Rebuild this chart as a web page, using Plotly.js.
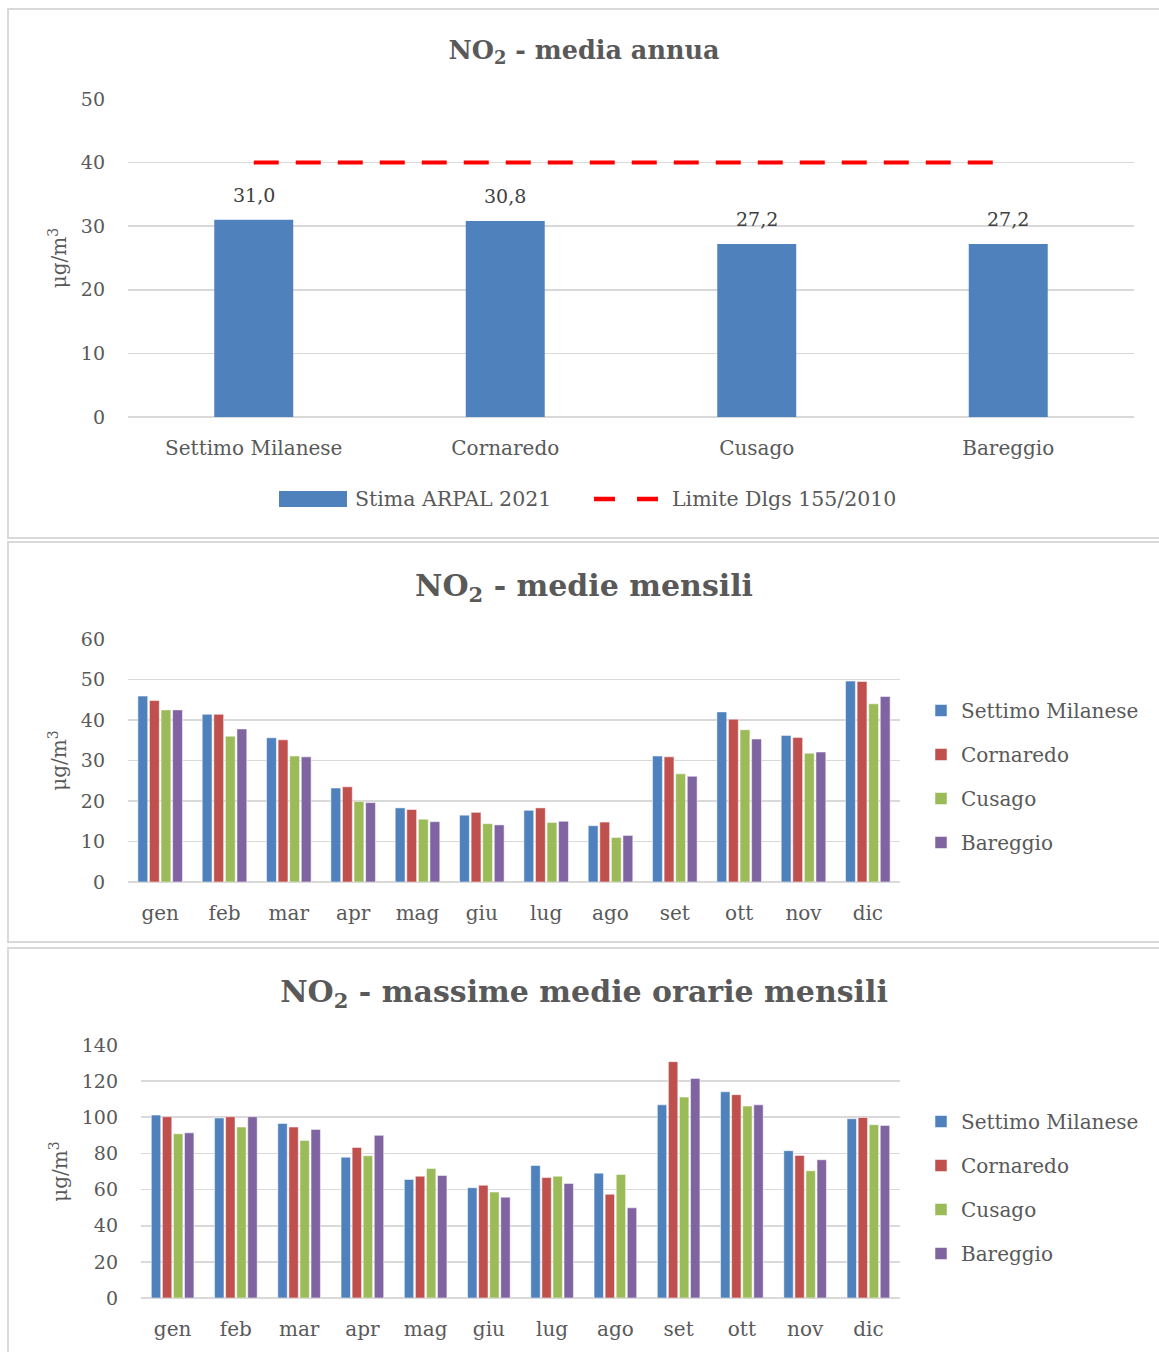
<!DOCTYPE html>
<html>
<head>
<meta charset="utf-8">
<script src="https://cdn.plot.ly/plotly-3.0.1.min.js"></script>
<style>
  html, body { margin: 0; padding: 0; background: #ffffff; width: 1159px; height: 1352px; overflow: hidden; }
  .panel { position: absolute; left: 7px; width: 1160px; border: 2px solid #d9d9d9; box-sizing: border-box; background: #fff; }
  .plot { position: absolute; left: 0; top: 0; width: 1150px; }
</style>
</head>
<body>
<div class="panel" style="top:8px;height:531px;"><div id="c1" class="plot" style="height:527px;"></div></div>
<div class="panel" style="top:541px;height:402px;"><div id="c2" class="plot" style="height:398px;"></div></div>
<div class="panel" style="top:947px;height:424px;"><div id="c3" class="plot" style="height:420px;"></div></div>
<script>
// ---------- data ----------
const stations = ['Settimo Milanese', 'Cornaredo', 'Cusago', 'Bareggio'];
const annualMean = [31.0, 30.8, 27.2, 27.2];
const limitValues = [40, 40, 40, 40];

const months = ['gen', 'feb', 'mar', 'apr', 'mag', 'giu', 'lug', 'ago', 'set', 'ott', 'nov', 'dic'];

const settimoMean   = [45.9, 41.4, 35.6, 23.2, 18.3, 16.5, 17.7, 13.9, 31.1, 42.0, 36.2, 49.6];
const cornaredoMean = [44.8, 41.4, 35.1, 23.5, 17.9, 17.2, 18.3, 14.8, 30.9, 40.2, 35.7, 49.5];
const cusagoMean    = [42.5, 36.0, 31.1, 19.9, 15.5, 14.4, 14.7, 11.0, 26.7, 37.6, 31.8, 44.0];
const bareggioMean  = [42.5, 37.8, 30.9, 19.6, 14.9, 14.1, 15.0, 11.5, 26.1, 35.3, 32.1, 45.8];

const settimoMax   = [101.2, 99.6, 96.6, 77.9, 65.6, 61.0, 73.3, 69.1, 106.9, 114.1, 81.5, 99.2];
const cornaredoMax = [100.3, 100.3, 94.6, 83.3, 67.4, 62.4, 66.7, 57.4, 130.8, 112.5, 78.9, 99.9];
const cusagoMax    = [90.9, 94.6, 87.2, 78.7, 71.7, 58.6, 67.4, 68.3, 111.2, 106.2, 70.4, 95.9];
const bareggioMax  = [91.4, 100.3, 93.3, 90.0, 67.8, 55.8, 63.4, 49.9, 121.5, 106.9, 76.5, 95.5];

const seriesColors = ['#4f81bd', '#c0504d', '#9bbb59', '#8064a2'];
const legendAnnual = ['Stima ARPAL 2021', 'Limite Dlgs 155/2010'];

// ---------- style ----------
const FONT = 'DejaVu Serif';
const TXT = '#595959';
const GRID = '#d9d9d9';
const unitTitle = 'μg/m<sup>3</sup>';

function yAxis(range, dtick, standoff) {
  return {
    range: range, dtick: dtick, fixedrange: true,
    showgrid: true, gridcolor: GRID, gridwidth: 1.6,
    zeroline: true, zerolinecolor: GRID, zerolinewidth: 1.6,
    showline: false, ticks: '',
    ticklabelstandoff: 22,
    tickfont: { family: FONT, size: 19, color: TXT },
    title: { text: unitTitle, font: { family: FONT, size: 20, color: TXT }, standoff: standoff }
  };
}
function xAxis() {
  return {
    type: 'category', fixedrange: true, showgrid: false, zeroline: false,
    showline: false, ticks: '', ticklabelstandoff: 17,
    tickfont: { family: FONT, size: 20, color: TXT }
  };
}

// ---------- chart 1 ----------
const pw1 = 1006, ph1 = 318;
function px1(x) { return (x - 128) / pw1; }
function py1(y) { return (417 - y) / ph1; }

const c1data = [
  { type: 'bar', x: stations, y: annualMean, marker: { color: seriesColors[0] },
    width: 0.314, showlegend: false, hoverinfo: 'x+y' },
  { type: 'scatter', mode: 'lines', x: stations, y: limitValues,
    line: { color: '#ff0000', width: 4, dash: '25px,17px' }, showlegend: false }
];
const c1ann = stations.map((s, i) => ({
  x: s, y: annualMean[i], xref: 'x', yref: 'y', yshift: 25, showarrow: false,
  text: annualMean[i].toFixed(1).replace('.', ','), yanchor: 'middle',
  font: { family: FONT, size: 19, color: '#404040' }
}));
c1ann.push({ xref: 'paper', yref: 'paper', x: px1(353), y: py1(499), xanchor: 'left', yanchor: 'middle',
  showarrow: false, text: legendAnnual[0], font: { family: FONT, size: 20.5, color: TXT } });
c1ann.push({ xref: 'paper', yref: 'paper', x: px1(670), y: py1(499), xanchor: 'left', yanchor: 'middle',
  showarrow: false, text: legendAnnual[1], font: { family: FONT, size: 20.5, color: TXT } });

const c1layout = {
  width: 1150, height: 527,
  margin: { l: 119, r: 25, t: 89, b: 120 },
  paper_bgcolor: 'rgba(0,0,0,0)', plot_bgcolor: 'rgba(0,0,0,0)',
  separators: ',.',
  title: { text: '<b>NO<sub>2</sub> - media annua</b>', x: 0.5, xref: 'container', y: 1 - 40 / 527, yref: 'container',
    xanchor: 'center', yanchor: 'middle', font: { family: FONT, size: 25.5, color: TXT } },
  xaxis: xAxis(),
  yaxis: yAxis([0, 50], 10, 8),
  showlegend: false,
  annotations: c1ann,
  shapes: [
    { type: 'rect', xref: 'paper', yref: 'paper', x0: px1(279), x1: px1(347), y0: py1(507), y1: py1(491),
      fillcolor: seriesColors[0], line: { width: 0 } },
    { type: 'line', xref: 'paper', yref: 'paper', x0: px1(594), x1: px1(658), y0: py1(499), y1: py1(499),
      line: { color: '#ff0000', width: 4.5, dash: '21px,22px' } }
  ]
};
Plotly.newPlot('c1', c1data, c1layout, { staticPlot: true });

// ---------- monthly charts ----------
function monthlyTraces(series) {
  return series.map((vals, i) => ({
    type: 'bar', x: months, y: vals, name: stations[i], legendgroup: 'g' + i,
    marker: { color: seriesColors[i], line: { color: 'rgba(255,255,255,0.5)', width: 1 } }
  }));
}
function monthlyLayout(h, margin, titleText, titleY, yRange, yDtick, legendX, legendY, gap, ystand) {
  return {
    width: 1150, height: h, margin: margin,
    paper_bgcolor: 'rgba(0,0,0,0)', plot_bgcolor: 'rgba(0,0,0,0)',
    barmode: 'group', bargap: gap, bargroupgap: 0.15,
    title: { text: titleText, x: 0.5, xref: 'container', y: titleY, yref: 'container',
      xanchor: 'center', yanchor: 'middle', font: { family: FONT, size: 30, color: TXT } },
    xaxis: xAxis(),
    yaxis: yAxis(yRange, yDtick, ystand),
    showlegend: true,
    legend: { x: legendX, y: legendY, xanchor: 'left', yanchor: 'top', orientation: 'v',
      tracegroupgap: 15, traceorder: 'grouped', bgcolor: 'rgba(0,0,0,0)',
      font: { family: FONT, size: 20, color: TXT } }
  };
}

Plotly.newPlot('c2',
  monthlyTraces([settimoMean, cornaredoMean, cusagoMean, bareggioMean]),
  monthlyLayout(398, { l: 119, r: 259, t: 96, b: 59 }, '<b>NO<sub>2</sub> - medie mensili</b>', 1 - 42 / 398,
    [0, 60], 10, (921 - 128) / 772, (882 - 691) / 243, 0.28, 8),
  { staticPlot: true });

Plotly.newPlot('c3',
  monthlyTraces([settimoMax, cornaredoMax, cusagoMax, bareggioMax]),
  monthlyLayout(420, { l: 132, r: 259, t: 96, b: 71 }, '<b>NO<sub>2</sub> - massime medie orarie mensili</b>', 1 - 42 / 420,
    [0, 140], 20, (921 - 141) / 759, (1298 - 1102) / 253, 0.30, 8),
  { staticPlot: true });
</script>
</body>
</html>
